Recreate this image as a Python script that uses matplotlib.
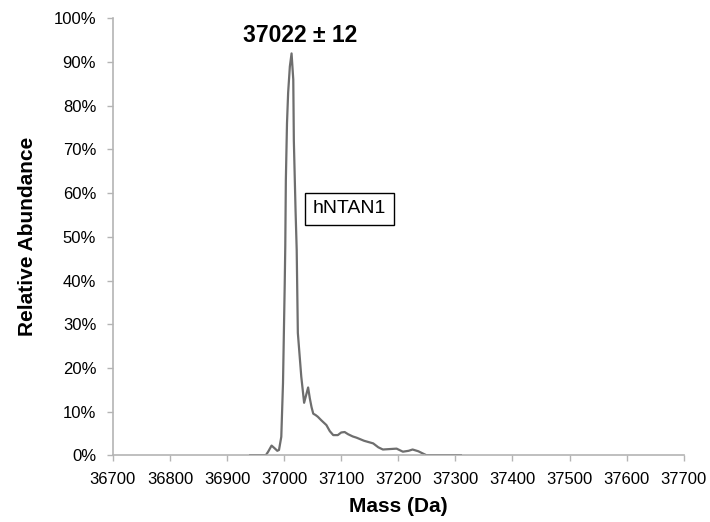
import matplotlib
matplotlib.use("Agg")
import matplotlib.pyplot as plt
from matplotlib.ticker import FuncFormatter, MultipleLocator

plt.rcParams['font.family'] = ['Liberation Sans', 'DejaVu Sans']

# Spectrum (Mass in Da, relative abundance in %)
mass = [36968, 36972, 36978, 36984, 36988, 36991, 36995, 36998, 37001, 37002,
        37003, 37005, 37007, 37010, 37013, 37016, 37017, 37020, 37022, 37024,
        37030, 37035, 37038, 37042, 37045, 37048, 37051, 37055, 37059, 37065,
        37074, 37080, 37086, 37094, 37100, 37106, 37112, 37120, 37127, 37140,
        37156, 37165, 37173, 37185, 37197, 37208, 37218, 37225, 37235, 37249]
abundance = [0.0, 0.8, 2.2, 1.5, 1.0, 1.2, 4.2, 16.5, 39, 48,
             63, 76, 83, 89, 92, 86, 72, 56, 47, 28,
             18, 12, 13.5, 15.5, 13, 11, 9.5, 9.2, 8.8, 8.0,
             6.9, 5.5, 4.6, 4.6, 5.2, 5.3, 4.8, 4.3, 4.0, 3.3,
             2.7, 1.8, 1.3, 1.4, 1.5, 0.8, 1.0, 1.3, 0.9, 0.0]
# Flat zero-baseline stretches drawn in black
zero_left_mass = [36940, 36968]
zero_right_mass = [37249, 37310]
zero_vals = [0, 0]

x_ticks = list(range(36700, 37701, 100))
peak_label = "37022 ± 12"
box_label = "hNTAN1"

fig = plt.figure(figsize=(7.1, 5.22), dpi=100)
ax = fig.add_axes([0.159, 0.128, 0.804, 0.8366])

ax.plot(mass, abundance, color='#6e6e6e', lw=1.6, solid_joinstyle='round')
ax.plot(zero_left_mass, zero_vals, color='black', lw=1.4)
ax.plot(zero_right_mass, zero_vals, color='black', lw=1.4)

ax.set_xlim(36700, 37700)
ax.set_ylim(0, 100)
ax.set_xticks(x_ticks)
ax.set_xticklabels([str(t) for t in x_ticks])
ax.yaxis.set_major_locator(MultipleLocator(10))
ax.yaxis.set_major_formatter(FuncFormatter(lambda v, p: f"{int(round(v))}%"))

for s in ['top', 'right']:
    ax.spines[s].set_visible(False)
for s in ['left', 'bottom']:
    ax.spines[s].set_color('#b4b4b4')
    ax.spines[s].set_linewidth(1.2)
ax.tick_params(axis='both', colors='#b4b4b4', length=4, width=1, direction='out',
               labelcolor='black', labelsize=12)
ax.tick_params(axis='y', pad=8)
ax.tick_params(axis='x', pad=8)

ax.set_xlabel("Mass (Da)", fontsize=15, fontweight='bold', labelpad=7)
ax.set_ylabel("Relative Abundance", fontsize=15, fontweight='bold', labelpad=12)

ax.text(37028, 96.2, peak_label, ha='center', va='center', fontsize=16.5, fontweight='bold')
ax.text(37115, 56.4, box_label, ha='center', va='center', fontsize=14,
        bbox=dict(boxstyle='square,pad=0.4', fc='white', ec='black', lw=1))

fig.savefig("out.png", dpi=100)
